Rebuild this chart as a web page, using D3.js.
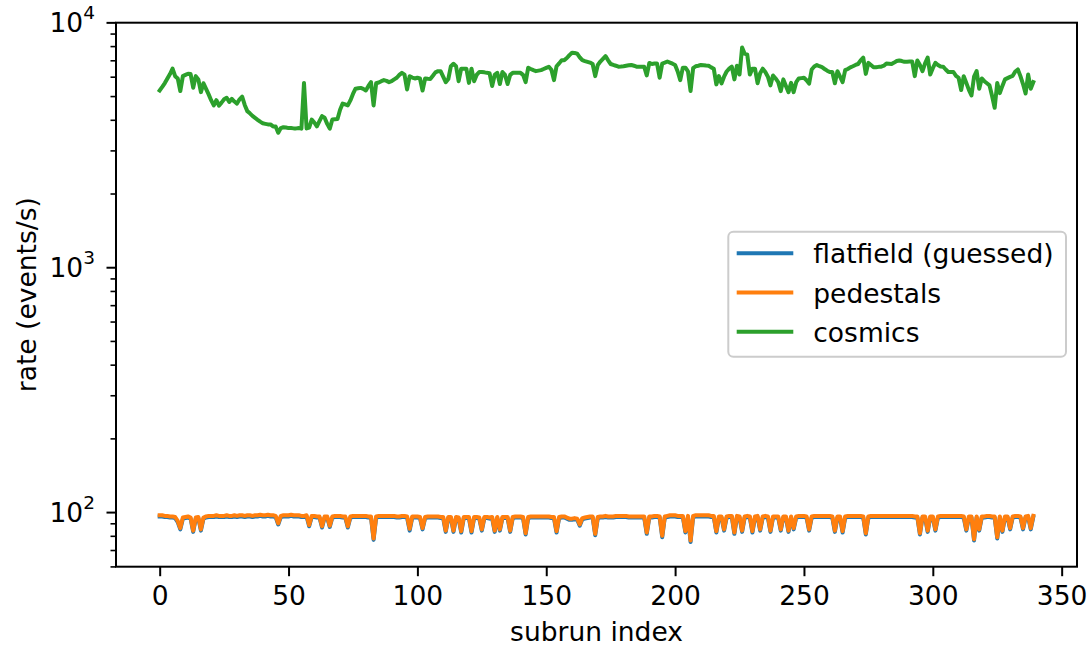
<!DOCTYPE html>
<html><head><meta charset="utf-8">
<script src="https://cdn.jsdelivr.net/npm/d3@7/dist/d3.min.js"></script>
<style>
body{margin:0;background:#fff}
svg{display:block}
text{font-family:"DejaVu Sans",sans-serif;fill:#000}
</style>
</head><body>
<svg id="chart" width="1090" height="649"></svg>
<script>
// ---------------- data ----------------
const seriesNames = ["flatfield (guessed)", "pedestals", "cosmics"];
const seriesColors = ["#1f77b4", "#ff7f0e", "#2ca02c"];

const flatfield = [
96,96,95.5,95.5,95,95,94.5,91,85,94,
94.5,95,94,83,94,94.5,84,94,95,95.5,
95.5,95.5,96,95.5,95.5,95.5,96,95.5,95.5,96,
95.5,96,96,95.5,96,96,95.5,96,96,96.5,
96,96,96.5,96,96,95.5,89,95.5,96,96,
96,96.5,96,96,96,95.5,95.5,96,87.5,95.5,
95.5,95,95,86.5,95,95,87,95,95.5,95.5,
95.5,95,95,86.5,95,95.5,95.5,95.5,95.5,95.5,
95.5,95,95,77,95,95.5,95.5,95.5,95.5,95.5,
95.5,95.5,95,95,95.5,95.5,95,84,95,95,
95,94.5,85,94.5,95,95,95,95,95,94.5,
94.5,83,94.5,94.5,83,94.5,94,82.5,94.5,94.5,
94.5,82.5,94.5,94.5,94,84,94.5,94.5,94,94.5,
83,94.5,84,94.5,94.5,94.5,83,94.5,95,95,
95,94.5,81,94.5,95,95,95,95,95,95,
95,95,94.5,94.5,82.5,94.5,95,95,94,93,
93,93.5,93,88,93.5,94,94.5,95,95,80.5,
94.5,95,95,95.5,95,95,95,95.5,95.5,95.5,
95.5,95.5,95,95,95,95,95,95,95,81.5,
95,95,95.5,95.5,95,79,95,95.5,96,96,
96,95.5,95.5,95.5,82.5,95.5,75.5,95.5,96,96,
96,96,96,96,95.5,95.5,82.5,95,95,84,
95,95.5,95.5,81.5,95.5,95,83,95,95.5,95,
82.5,95,95.5,84,95,95.5,95,83,95,95,
95,84,95,95,83,95,85,95,95.5,95.5,
95.5,95,84,95,95.5,95.5,95.5,95.5,95.5,95.5,
95.5,95,83,95,95,82.5,95,95.5,95.5,95.5,
95.5,95.5,95.5,95,81,95,95.5,95.5,95.5,95.5,
95.5,95.5,95.5,95.5,95.5,95.5,95.5,95.5,95.5,95.5,
95.5,95.5,95.5,95,95,81,95,95,83,95,
95,84,95,95.5,95.5,95.5,95.5,95.5,95.5,95.5,
95.5,95.5,95,84,95,95,76.5,95,84,95,
95,95.5,95.5,95,95,78,95,83,95,95,
85,95,95.5,95.5,95,85,95,95.5,85,95.5
];

const pedestals = [
97,97,96.5,96.5,96,96,95.5,92,86,95,
95.5,96,95,84,95,95.5,85,95,96,96.5,
96.5,96.5,97,96.5,96.5,96.5,97,96.5,96.5,97,
96.5,97,97,96.5,97,97,96.5,97,97,97.5,
97,97,97.5,97,97,96.5,90,96.5,97,97,
97,97.5,97,97,97,96.5,96.5,97,88.5,96.5,
96.5,96,96,87.5,96,96,88,96,96.5,96.5,
96.5,96,96,87.5,96,96.5,96.5,96.5,96.5,96.5,
96.5,96,96,78,96,96.5,96.5,96.5,96.5,96.5,
96.5,96.5,96,96,96.5,96.5,96,85.5,96,96,
96,95.5,86,95.5,96,96,96,96,96,95.5,
95.5,84,95.5,95.5,84,95.5,95,83.5,95.5,95.5,
95.5,83.5,95.5,95.5,95,85,95.5,95.5,95,95.5,
84,95.5,85,95.5,95.5,95.5,84,95.5,96,96,
96,95.5,82,95.5,96,96,96,96,96,96,
96,96,95.5,95.5,83.5,95.5,96,96,95,94,
94,94.5,94,89,94.5,95,95.5,96,96,81.5,
95.5,96,96,96.5,96,96,96,96.5,96.5,96.5,
96.5,96.5,96,96,96,96,96,96,96,82.5,
96,96,96.5,96.5,96,80,96,96.5,97,97,
97,96.5,96.5,96.5,83.5,96.5,76.5,96.5,97,97,
97,97,97,97,96.5,96.5,83.5,96,96,85,
96,96.5,96.5,82.5,96.5,96,84,96,96.5,96,
83.5,96,96.5,85,96,96.5,96,84,96,96,
96,85,96,96,84,96,86,96,96.5,96.5,
96.5,96,85,96,96.5,96.5,96.5,96.5,96.5,96.5,
96.5,96,84,96,96,83.5,96,96.5,96.5,96.5,
96.5,96.5,96.5,96,82,96,96.5,96.5,96.5,96.5,
96.5,96.5,96.5,96.5,96.5,96.5,96.5,96.5,96.5,96.5,
96.5,96.5,96.5,96,96,82,96,96,84,96,
96,85,96,96.5,96.5,96.5,96.5,96.5,96.5,96.5,
96.5,96.5,96,85,96,96,77.5,96,85,96,
96,96.5,96.5,96,96,79,96,84,96,96,
86,96,96.5,96.5,96,86,96,96.5,86,96.5
];

const cosmics = [
5270,5450,5650,5900,6150,6470,6030,5900,5240,6030,
6100,6170,6150,5410,6030,5850,5190,5640,5350,5080,
4800,4580,4810,4570,4700,4850,4920,4730,4870,4750,
4660,4850,4970,4600,4340,4250,4150,4075,4000,3930,
3870,3850,3830,3830,3760,3760,3540,3700,3730,3720,
3700,3700,3690,3690,3700,3680,5660,3690,3720,4010,
3900,3760,3950,4140,4080,3850,3680,4010,4020,4030,
4400,4660,4620,4580,4800,5100,5360,5380,5400,5350,
5270,5500,5700,4580,5640,5680,5750,5810,5770,5700,
5750,5850,5940,6100,6220,6120,5320,6030,5950,5900,
5940,5900,5270,5900,5880,5870,6050,6250,6320,6320,
6000,5700,5870,6620,6770,6620,5750,6470,6470,6470,
5660,6470,5750,6100,6270,6270,6250,6220,6200,5500,
6100,6220,5600,6270,6100,5600,6100,6220,6220,6220,
6220,6100,5700,6530,6450,6380,6320,6350,6380,6450,
6520,6590,6400,5810,6620,6800,7010,7010,7150,7350,
7520,7500,7450,7200,7010,6950,6900,6850,6760,6030,
6700,6920,7100,7280,7000,6760,6700,6650,6590,6600,
6620,6650,6680,6700,6650,6590,6590,6590,6590,6070,
6830,6760,6790,6790,5940,6790,6850,6920,6850,6780,
6700,6300,5810,6530,6530,6300,5240,6500,6620,6650,
6700,6680,6660,6650,6550,6470,5580,6030,5630,6000,
6300,6470,6590,5850,6650,6120,7900,7450,7380,6120,
6470,6470,5640,6200,6470,6270,6000,5530,6070,5900,
5700,5240,5850,5500,5190,5660,5190,5700,5900,5920,
5940,5800,5620,6420,6600,6690,6620,6560,6450,6350,
6270,6270,5640,6320,6000,5700,6380,6450,6550,6620,
6700,6760,7000,7180,6160,6830,6700,6560,6560,6580,
6590,6650,6790,6780,6760,6850,6950,6990,6950,6900,
6910,6920,6920,6030,6990,6700,6320,6800,7180,6120,
6500,6830,6700,6600,6590,6420,6270,6270,6270,6050,
5940,5290,6030,5660,5300,5030,6000,6320,5360,5900,
5750,5640,5530,5000,4480,5660,5140,5500,5850,5920,
5990,6050,6300,6420,6030,5600,5120,6120,5360,5700
];

const xTicks = [0, 50, 100, 150, 200, 250, 300, 350];
const yMajorTicks = [100, 1000, 10000];
const yMajorExponents = ["2", "3", "4"];
const yMinorTicks = [60, 70, 80, 90, 200, 300, 400, 500, 600, 700, 800, 900,
                     2000, 3000, 4000, 5000, 6000, 7000, 8000, 9000];
const xLabel = "subrun index";
const yLabel = "rate (events/s)";

// ---------------- layout ----------------
const W = 1090, H = 649;
const plot = {left: 116, right: 1077, top: 22.7, bottom: 566.7};
const FONT = 26.5;

const svg = d3.select("#chart");
const allSeries = [flatfield, pedestals, cosmics];
const n = cosmics.length;
const idx = d3.range(n);

// matplotlib-like 5% margins
const xPad = 0.05 * (n - 1);
const x = d3.scaleLinear().domain([-xPad, (n - 1) + xPad]).range([plot.left, plot.right]);

const allVals = allSeries.flat();
const lmin = Math.log10(d3.min(allVals)), lmax = Math.log10(d3.max(allVals));
const lpad = 0.05 * (lmax - lmin);
const y = d3.scaleLog().domain([Math.pow(10, lmin - lpad), Math.pow(10, lmax + lpad)])
  .range([plot.bottom, plot.top]);

// data lines
const clipId = "clip";
svg.append("defs").append("clipPath").attr("id", clipId)
  .append("rect").attr("x", plot.left).attr("y", plot.top)
  .attr("width", plot.right - plot.left).attr("height", plot.bottom - plot.top);

const line = d3.line().x((d, i) => x(idx[i])).y(d => y(d));
const gLines = svg.append("g").attr("clip-path", `url(#${clipId})`);
allSeries.forEach((s, k) => {
  gLines.append("path").datum(s).attr("d", line)
    .attr("fill", "none").attr("stroke", seriesColors[k])
    .attr("stroke-width", 4).attr("stroke-linejoin", "round").attr("stroke-linecap", "square");
});

// x axis
const xAxis = d3.axisBottom(x).tickValues(xTicks).tickSize(9.5).tickPadding(9.5).tickSizeOuter(0);
const gx = svg.append("g").attr("transform", `translate(0,${plot.bottom})`).call(xAxis);
gx.select(".domain").remove();
gx.selectAll(".tick line").attr("stroke", "#000").attr("stroke-width", 2);
gx.selectAll(".tick text").attr("font-size", FONT).attr("font-family", "DejaVu Sans");

// y axis major
const inDom = v => v >= y.domain()[0] * 0.999 && v <= y.domain()[1] * 1.01;
const yMaj = yMajorTicks.filter(inDom);
const yAxis = d3.axisLeft(y).tickValues(yMaj).tickSize(9.5).tickFormat("").tickSizeOuter(0);
const gy = svg.append("g").attr("transform", `translate(${plot.left},0)`).call(yAxis);
gy.select(".domain").remove();
gy.selectAll(".tick line").attr("stroke", "#000").attr("stroke-width", 2);
const yMinAxis = d3.axisLeft(y).tickValues(yMinorTicks.filter(inDom)).tickSize(5.5).tickFormat("").tickSizeOuter(0);
const gym = svg.append("g").attr("transform", `translate(${plot.left},0)`).call(yMinAxis);
gym.select(".domain").remove();
gym.selectAll(".tick line").attr("stroke", "#000").attr("stroke-width", 1.6);

// y tick labels 10^k
yMajorTicks.forEach((v, k) => {
  if (!inDom(v)) return;
  const t = svg.append("text").attr("x", plot.left - 21).attr("y", y(v) + 9.5)
    .attr("text-anchor", "end").attr("font-size", FONT);
  t.append("tspan").text("10");
  t.append("tspan").attr("dy", -12.5).attr("font-size", 18.5).text(yMajorExponents[k]);
});

// spines
svg.append("rect").attr("x", plot.left).attr("y", plot.top)
  .attr("width", plot.right - plot.left).attr("height", plot.bottom - plot.top)
  .attr("fill", "none").attr("stroke", "#000").attr("stroke-width", 2);

// axis labels
svg.append("text").attr("x", (plot.left + plot.right) / 2).attr("y", 641)
  .attr("text-anchor", "middle").attr("font-size", FONT).text(xLabel);
svg.append("text").attr("transform", `translate(36,${(plot.top + plot.bottom) / 2}) rotate(-90)`)
  .attr("text-anchor", "middle").attr("font-size", FONT).text(yLabel);

// legend
const lg = svg.append("g");
lg.append("rect").attr("x", 728.3).attr("y", 231.7).attr("width", 337.7).attr("height", 125)
  .attr("rx", 5).attr("fill", "#fff").attr("fill-opacity", 0.8)
  .attr("stroke", "#cccccc").attr("stroke-width", 2);
seriesNames.forEach((name, k) => {
  const yy = 253.3 + k * 39.2;
  lg.append("line").attr("x1", 736.7).attr("x2", 793.3).attr("y1", yy).attr("y2", yy)
    .attr("stroke", seriesColors[k]).attr("stroke-width", 4);
  lg.append("text").attr("x", 813.3).attr("y", yy + 10).attr("font-size", FONT).text(name);
});
</script>
</body></html>
